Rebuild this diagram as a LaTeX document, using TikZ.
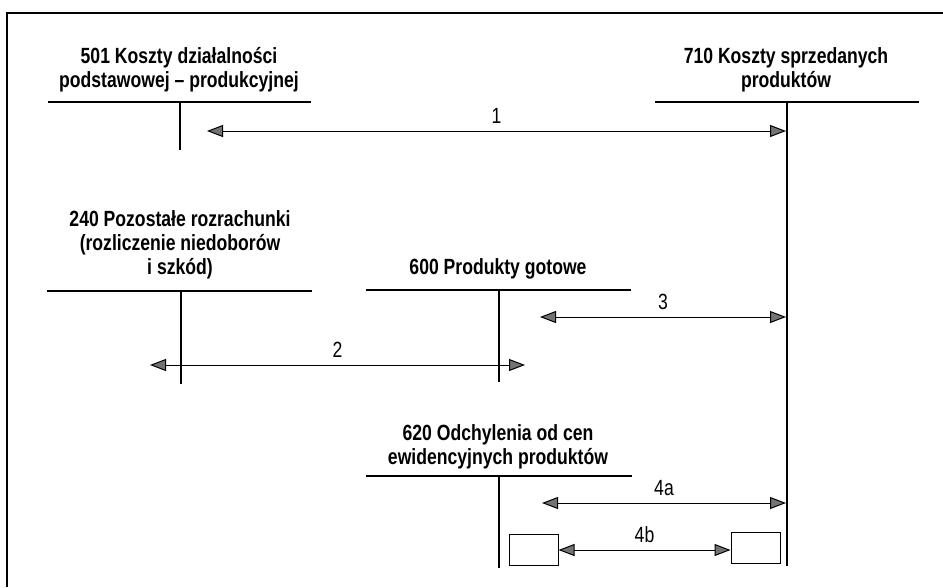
\documentclass[tikz,border=0pt]{standalone}
\usepackage{fontspec}
\setmainfont{Liberation Sans}
\newfontfamily\condfont[FakeStretch=0.8]{Liberation Sans}
\usetikzlibrary{arrows.meta}
\begin{document}
\begin{tikzpicture}[x=1pt,y=-1pt,
  title/.style={font=\condfont\bfseries\fontsize{22}{24}\selectfont, align=center, inner sep=0pt, anchor=south, text depth=0pt},
  lab/.style={font=\condfont\fontsize{22}{24}\selectfont, inner sep=0pt, anchor=base},
  tline/.style={line width=1.3pt},
  flow/.style={line width=1pt, {Triangle[length=16pt,width=12pt,fill=black!55]}-{Triangle[length=16pt,width=12pt,fill=black!55]}},
  smallbox/.style={draw, line width=1pt, minimum height=31pt, inner sep=0pt}]
\useasboundingbox (0,0) rectangle (943,587);
% frame
\draw[line width=1.2pt] (943,13) -- (7,13) -- (7,587);
% titles
\node[title] (t501) at (179,88) {501 Koszty działalności\\podstawowej – produkcyjnej};
\node[title] (t710) at (786,88) {710 Koszty sprzedanych\\produktów};
\node[title] (t240) at (180,275) {240 Pozostałe rozrachunki\\(rozliczenie niedoborów\\i szkód)};
\node[title] (t600) at (498,275) {600 Produkty gotowe};
\node[title] (t620) at (498,465) {620 Odchylenia od cen\\ewidencyjnych produktów};
% T accounts
\draw[tline] (48,102) -- (311,102);  \draw[tline] (180,102) -- (180,150);
\draw[tline] (655,102) -- (919,102); \draw[tline] (787,102) -- (787,566);
\draw[tline] (47,291) -- (312,291);  \draw[tline] (181,291) -- (181,384);
\draw[tline] (366,290) -- (631,290); \draw[tline] (499,290) -- (499,382);
\draw[tline] (366,476) -- (632,476); \draw[tline] (499,476) -- (499,568);
% arrow endpoints
\coordinate (a1l) at (207,131); \coordinate (a1r) at (786,131);
\coordinate (a2l) at (150,365); \coordinate (a2r) at (525,365);
\coordinate (a3l) at (540,317); \coordinate (a3r) at (786,317);
\coordinate (a4l) at (542,503); \coordinate (a4r) at (786,503);
\node[smallbox, minimum width=49pt] (bl) at (533.5,549.5) {};
\node[smallbox, minimum width=49pt] (br) at (755.5,547.5) {};
% flows
\draw[flow] (a1l) -- node[lab, above=7pt] (l1) {1} (a1r);
\draw[flow] (a2l) -- node[lab, above=7pt] (l2) {2} (a2r);
\draw[flow] (a3l) -- node[lab, above=7pt] (l3) {3} (a3r);
\draw[flow] (a4l) -- node[lab, above=7pt] (l4a) {4a} (a4r);
\draw[flow] (bl.east |- 0,550) -- node[lab, above=7pt] (l4b) {4b} (br.west |- 0,550);
\end{tikzpicture}
\end{document}
